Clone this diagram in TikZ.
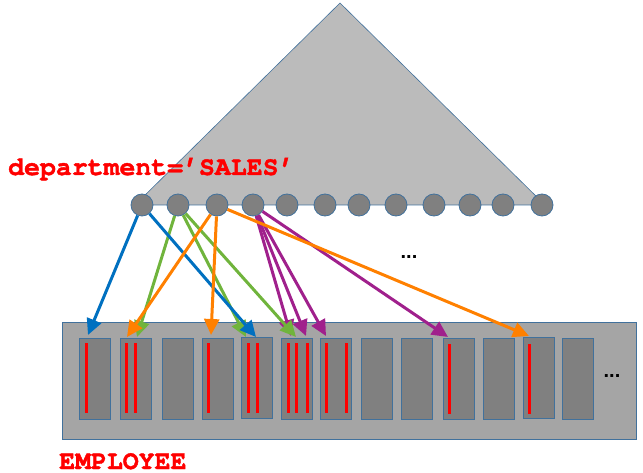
\documentclass[tikz,border=0pt]{standalone}
\usepackage{fontspec}
\setmainfont{Liberation Sans}
\newfontfamily\codefont{TeX Gyre Cursor}[BoldFeatures={FakeBold=1.5}]
\usetikzlibrary{arrows.meta}
\definecolor{olblue}{RGB}{65,113,156}
\definecolor{trigray}{RGB}{187,187,187}
\definecolor{rectgray}{RGB}{165,165,165}
\definecolor{boxgray}{RGB}{128,128,128}
\definecolor{arblue}{RGB}{0,112,192}
\definecolor{argreen}{RGB}{112,180,60}
\definecolor{arorange}{RGB}{255,128,0}
\definecolor{arpurple}{RGB}{160,32,140}
\begin{document}
\begin{tikzpicture}[x=1pt,y=-1pt,
 keynode/.style={circle,draw=olblue,fill=boxgray,minimum size=22pt,inner sep=0pt,line width=0.8pt},
 rowbox/.style={rectangle,draw=olblue,fill=boxgray,minimum width=31pt,minimum height=81pt,inner sep=0pt,line width=0.8pt},
 ptr/.style={line width=3pt,-{Triangle[length=16pt,width=15pt]}},
 bar/.style={red,line width=3pt},
 lbl/.style={text=red,font=\codefont\bfseries\fontsize{26.5}{28}\selectfont,inner sep=0pt,anchor=base west},
 dots/.style={font=\bfseries\fontsize{20}{22}\selectfont,inner sep=0pt}]
\useasboundingbox (0,0) rectangle (643,473);
% index triangle
\filldraw[fill=trigray,draw=olblue,line width=0.6pt] (340,3) -- (135,205) -- (545,205) -- cycle;
% leaf keys
\foreach \i/\x in {1/142,2/178,3/217,4/253,5/287,6/325,7/359,8/396,9/434,10/470,11/503,12/542}
  \node[keynode] (c\i) at (\x,205) {};
% table
\node[rectangle,draw=olblue,fill=rectgray,line width=0.8pt,minimum width=574pt,minimum height=117pt,inner sep=0pt] (emp) at (349,380.5) {};
\foreach \i/\x/\y in {1/94.5/378.5,2/135.5/378.5,3/177.5/378.5,4/217.5/378.5,5/257/377.5,6/296.5/378.5,7/336/378.5,8/376.5/378.5,9/417/378.5,10/458.5/378.5,11/498.5/378.5,12/538.5/377.5,13/577.5/378.5}
  \node[rowbox] (b\i) at (\x,\y) {};
% matching rows
\foreach \x in {86,126,135,208,248,257,288,296,307,326,346}
  \draw[bar] (\x,343) -- (\x,413);
\foreach \x in {449,529}
  \draw[bar] (\x,344) -- (\x,414);
% pointers
\coordinate (p1) at (291,336);
\coordinate (p2) at (306,336);
\coordinate (p3) at (326,336);
\coordinate (p4) at (448,337);
\coordinate (g1) at (137,337);
\coordinate (g2) at (246,337);
\coordinate (g3) at (296,337);
\coordinate (u1) at (88,335);
\coordinate (u2) at (256,337);
\coordinate (o1) at (127,337);
\coordinate (o2) at (211,335);
\coordinate (o3) at (529,336);
\draw[ptr,arpurple] (c4) -- (p1);
\draw[ptr,arpurple] (c4) -- (p2);
\draw[ptr,arpurple] (c4) -- (p3);
\draw[ptr,arpurple] (c4) -- (p4);
\draw[ptr,argreen] (c2) -- (g1);
\draw[ptr,argreen] (c2) -- (g2);
\draw[ptr,argreen] (c2) -- (g3);
\draw[ptr,arblue] (c1) -- (u1);
\draw[ptr,arblue] (c1) -- (u2);
\draw[ptr,arorange] (c3) -- (o1);
\draw[ptr,arorange] (c3) -- (o2);
\draw[ptr,arorange] (c3) -- (o3);
% labels
\node[lbl] (cond) at (8,175) {department=’SALES’};
\node[lbl] (tname) at (59,469) {EMPLOYEE};
\node[dots] (d1) at (409,257) {...};
\node[dots] (d2) at (612,376) {...};
\end{tikzpicture}
\end{document}
